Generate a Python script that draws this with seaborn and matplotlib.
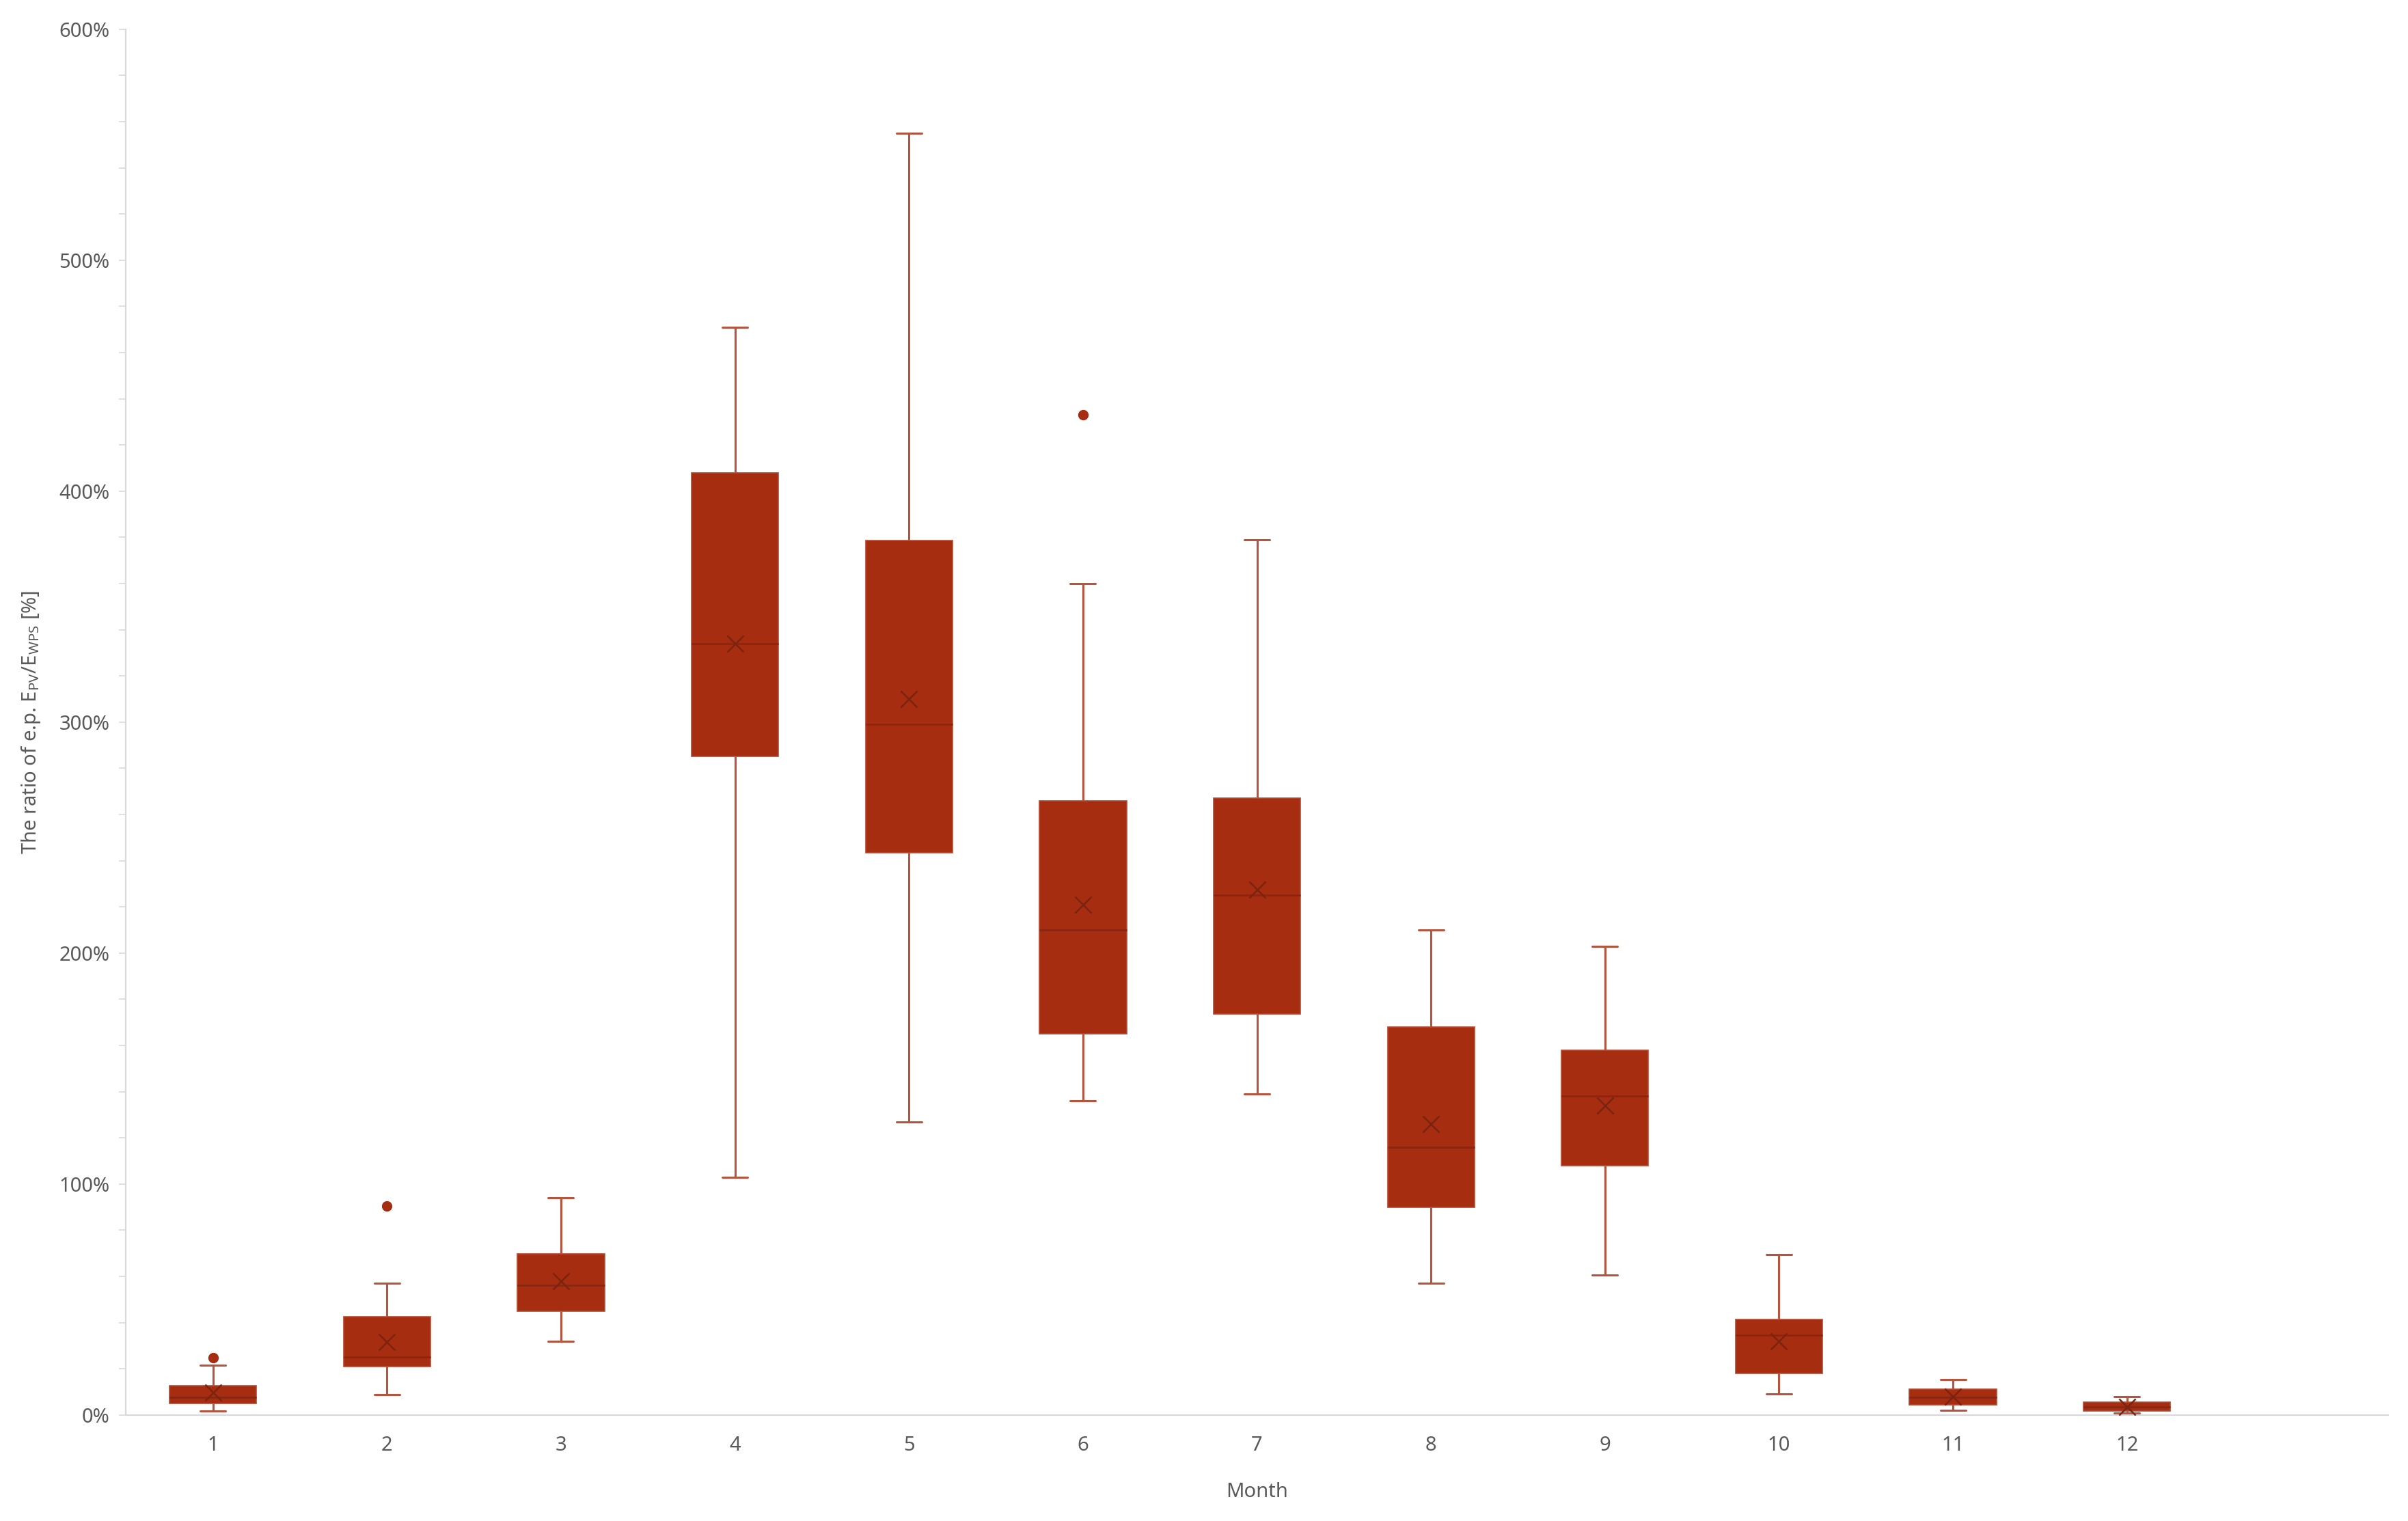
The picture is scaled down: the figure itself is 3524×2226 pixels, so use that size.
import numpy as np
import pandas as pd
import matplotlib
matplotlib.use("Agg")
import matplotlib.pyplot as plt
from matplotlib.ticker import PercentFormatter, MultipleLocator
import seaborn as sns

# Monthly distribution of the e.p. ratio E_PV/E_WPS (values in %)
months = [1, 2, 3, 4, 5, 6, 7, 8, 9, 10, 11, 12]
whisker_low = [1.7, 8.9, 32.0, 103.0, 127.0, 136.0, 139.0, 57.0, 60.5, 9.1, 2.1, 0.9]
q1 = [5.1, 20.9, 45.0, 285.0, 243.5, 165.0, 173.6, 90.0, 108.0, 18.0, 4.4, 1.8]
median = [7.5, 25.2, 56.1, 334.0, 299.0, 210.0, 225.0, 116.0, 138.0, 34.7, 7.5, 3.5]
q3 = [12.8, 42.6, 69.8, 408.0, 378.5, 266.0, 267.0, 168.0, 158.0, 41.5, 11.2, 5.6]
whisker_high = [21.6, 57.2, 93.9, 471.0, 555.0, 360.0, 379.0, 210.0, 203.0, 69.5, 15.2, 8.0]
mean = [9.7, 31.7, 57.8, 334.0, 310.0, 221.0, 227.5, 126.0, 134.0, 32.0, 7.9, 3.5]

outlier_month = [1, 2, 6]
outlier_value = [24.8, 90.5, 433.0]

fill_color = "#A62D0F"
whisker_color = "#B5543F"
median_color = "#8A2611"
mean_color = "#7A2310"
text_color = "#595959"
axis_color = "#D9D9D9"

# five-number summary per month -> long table for seaborn
rows = []
for i, m in enumerate(months):
    for v in (whisker_low[i], q1[i], median[i], q3[i], whisker_high[i]):
        rows.append({"month": m, "ratio": v})
df = pd.DataFrame(rows)

sns.set_theme(style="white")
plt.rcParams["font.family"] = ["Noto Sans", "DejaVu Sans"]

fig = plt.figure(figsize=(17.62, 11.13), dpi=200)
ax = fig.add_axes([0.0523, 0.0697, 0.9394, 0.9111])

sns.boxplot(
    data=df, x="month", y="ratio", native_scale=True, whis=np.inf,
    width=0.5, color=fill_color, saturation=1, showfliers=False,
    capwidths=0.145, ax=ax,
    boxprops={"facecolor": fill_color, "edgecolor": "#B24A33", "linewidth": 0.6},
    medianprops={"color": median_color, "linewidth": 1.0},
    whiskerprops={"color": whisker_color, "linewidth": 1.1},
    capprops={"color": whisker_color, "linewidth": 1.1},
)

# mean markers
sns.scatterplot(x=months, y=mean, marker="x", s=75, color=mean_color,
                linewidth=0.9, ax=ax, zorder=5, legend=False)
# outliers
sns.scatterplot(x=outlier_month, y=outlier_value, marker="o", s=26,
                color=fill_color, edgecolor=fill_color, ax=ax, zorder=5,
                legend=False)

ax.set_xlim(0.5, 13.5)
ax.set_ylim(0, 600)
ax.set_xticks(months)
ax.set_xticklabels([str(m) for m in months])
ax.yaxis.set_major_locator(MultipleLocator(100))
ax.yaxis.set_minor_locator(MultipleLocator(20))
ax.yaxis.set_major_formatter(PercentFormatter(xmax=100, decimals=0))

for side in ["top", "right"]:
    ax.spines[side].set_visible(False)
for side in ["left", "bottom"]:
    ax.spines[side].set_color(axis_color)
    ax.spines[side].set_linewidth(0.8)

ax.tick_params(axis="x", which="both", length=0, pad=11, labelsize=10.5,
               labelcolor=text_color)
ax.tick_params(axis="y", which="major", length=3.5, width=0.6, color=axis_color,
               pad=5, labelsize=10.5, labelcolor=text_color, left=True)
ax.tick_params(axis="y", which="minor", length=3.5, width=0.6, color=axis_color,
               left=True)

ax.set_xlabel("Month", fontsize=10.5, color=text_color, labelpad=14)
ax.set_ylabel(r"The ratio of e.p. E$_{\mathregular{PV}}$/E$_{\mathregular{WPS}}$ [%]",
              fontsize=10.5, color=text_color, labelpad=9)

fig.savefig("out.png", dpi=200, facecolor="white")
